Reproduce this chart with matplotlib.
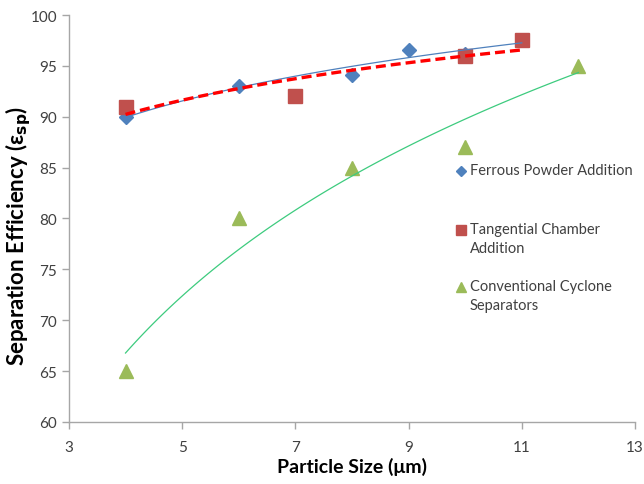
import numpy as np
import matplotlib
matplotlib.use("Agg")
import matplotlib.pyplot as plt

plt.rcParams['font.family'] = ['Lato', 'DejaVu Sans']

# particle size (um) and separation efficiency (%)
ferrous_x = [4, 6, 8, 9, 10, 11]
ferrous_y = [90.0, 93.0, 94.1, 96.6, 96.2, 97.5]

tangential_x = [4, 7, 10, 11]
tangential_y = [91.0, 92.0, 96.0, 97.5]

conventional_x = [4, 6, 8, 10, 12]
conventional_y = [65.0, 80.0, 85.0, 87.0, 95.0]

labels = ["Ferrous Powder Addition",
          "Tangential Chamber\nAddition",
          "Conventional Cyclone\nSeparators"]

BLUE = '#4F81BD'
RED = '#C0504D'
GREEN = '#9BBB59'
AXIS_GREY = '#A6A6A6'
TEXT = '#404040'


def log_trend(x, y):
    # Excel style logarithmic trendline
    a, b = np.polyfit(np.log(x), y, 1)
    xs = np.linspace(min(x), max(x), 100)
    return xs, a * np.log(xs) + b


fig = plt.figure(figsize=(6.44, 4.85), dpi=100)
ax = fig.add_axes([0.107, 0.128, 0.879, 0.839])

ax.plot(ferrous_x, ferrous_y, 'D', color=BLUE, ms=7, zorder=3)
ax.plot(tangential_x, tangential_y, 's', color=RED, ms=10, zorder=3)
ax.plot(conventional_x, conventional_y, '^', color=GREEN, ms=10, zorder=3)

xs, ys = log_trend(ferrous_x, ferrous_y)
ax.plot(xs, ys, color=BLUE, lw=0.9, zorder=4)
xs, ys = log_trend(tangential_x, tangential_y)
ax.plot(xs, ys, color='#FF0000', lw=2.4, ls=(0, (3, 1.5)), zorder=4)
xs, ys = log_trend(conventional_x, conventional_y)
ax.plot(xs, ys, color='#3DCB7E', lw=0.9, zorder=4)

ax.set_xlim(3, 13)
ax.set_ylim(60, 100)
ax.set_xticks([3, 5, 7, 9, 11, 13])
ax.set_yticks(range(60, 101, 5))

for side in ['top', 'right']:
    ax.spines[side].set_visible(False)
for side in ['left', 'bottom']:
    ax.spines[side].set_color(AXIS_GREY)
    ax.spines[side].set_linewidth(1.0)
ax.tick_params(colors=AXIS_GREY, labelcolor=TEXT, labelsize=11, length=5, width=1)
ax.tick_params(axis='x', pad=8)

ax.set_xlabel("Particle Size (\u03bcm)", fontsize=14, fontweight='bold', color='black', labelpad=2)
ax.set_ylabel("Separation Efficiency (\u03b5$_{\\mathbf{sp}}$)", fontsize=16, fontweight='bold',
              color='black')
ax.yaxis.set_label_coords(-0.063, 0.46)

# legend, Excel style: marker next to the first line of a wrapped label
leg_markers = [('D', BLUE, 5), ('s', RED, 7.5), ('^', GREEN, 7.5)]
leg_y = [0.616, 0.471, 0.331]
for (m, c, s), lab, y in zip(leg_markers, labels, leg_y):
    ax.plot([0.693], [y], m, color=c, ms=s, transform=ax.transAxes, clip_on=False)
    ax.text(0.708, y + 0.021, lab, transform=ax.transAxes, fontsize=10.5, color=TEXT,
            va='top', ha='left', linespacing=1.45)

fig.savefig("out.png", dpi=100)
